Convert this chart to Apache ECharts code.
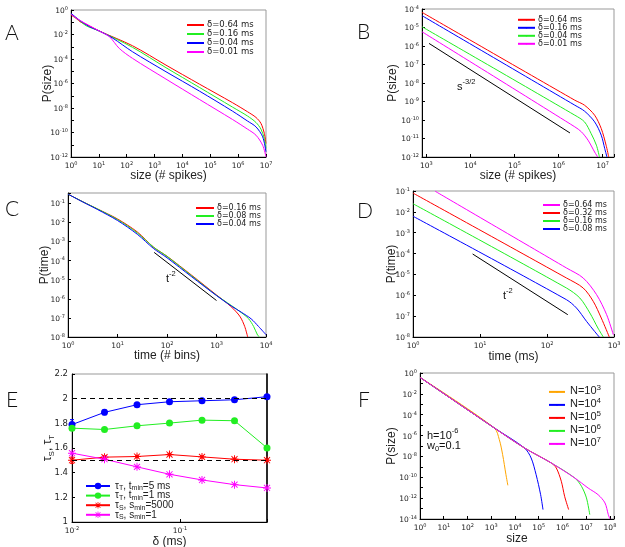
<!DOCTYPE html>
<html><head><meta charset="utf-8">
<script src="https://cdn.jsdelivr.net/npm/echarts@6/dist/echarts.min.js"></script>
<style>html,body{margin:0;padding:0;background:#fff}#c{width:625px;height:547px}</style>
</head><body><div id="c"></div><script>
// ---------- DATA (log10 readings off log axes) ----------
// Panel A: P(size) vs size
const A_red_lx = [0, 0.18, 0.36, 0.48, 0.60, 1.02, 2.21, 3.41, 4.61, 5.80, 6.34, 6.64, 6.82, 6.94, 7.0];
const A_red_ly = [-0.41, -0.68, -1.01, -1.09, -1.23, -1.72, -2.92, -4.50, -6.05, -7.57, -8.31, -8.77, -9.26, -10.08, -10.90];
const A_grn_lx = [0, 0.24, 0.54, 1.02, 2.21, 3.41, 4.61, 5.80, 6.34, 6.64, 6.82, 6.94, 7.0];
const A_grn_ly = [-0.33, -0.74, -1.28, -1.72, -3.05, -4.71, -6.32, -7.93, -8.66, -9.18, -9.73, -10.49, -11.31];
const A_blu_lx = [0, 0.30, 0.66, 1.02, 1.50, 2.21, 3.41, 4.61, 5.80, 6.34, 6.64, 6.88, 7.0];
const A_blu_ly = [-0.27, -0.82, -1.36, -1.72, -2.30, -3.41, -5.04, -6.62, -8.26, -9.07, -9.54, -10.35, -11.58];
const A_mag_lx = [0, 0.30, 0.66, 1.02, 1.38, 1.73, 2.21, 3.41, 4.61, 5.80, 6.34, 6.64, 6.88, 7.0];
const A_mag_ly = [-0.35, -0.82, -1.28, -1.72, -2.18, -3.13, -3.95, -5.64, -7.30, -8.94, -9.73, -10.22, -11.04, -11.99];
const A_labels = ['δ=0.64 ms', 'δ=0.16 ms', 'δ=0.04 ms', 'δ=0.01 ms'];

// Panel B
const B_red_lx = [2.9, 6.37, 6.59, 6.82, 6.97, 7.08, 7.14];
const B_red_ly = [-4.18, -8.93, -9.20, -9.74, -10.46, -11.36, -12.0];
const B_blu_lx = [2.9, 6.37, 6.59, 6.82, 6.97, 7.05, 7.10];
const B_blu_ly = [-4.36, -9.20, -9.52, -10.10, -10.82, -11.55, -12.0];
const B_grn_lx = [2.9, 6.37, 6.59, 6.74, 6.86, 6.93];
const B_grn_ly = [-4.96, -9.74, -10.10, -10.73, -11.36, -12.0];
const B_mag_lx = [2.9, 6.37, 6.52, 6.67, 6.82, 6.89];
const B_mag_ly = [-5.23, -10.37, -10.64, -11.09, -11.73, -12.0];
const B_ref_lx = [3.06, 6.26];
const B_ref_ly = [-5.86, -10.70];
const B_labels = ['δ=0.64 ms', 'δ=0.16 ms', 'δ=0.04 ms', 'δ=0.01 ms'];

// Panel C
const C_red_lx = [0, 0.3, 0.6, 1.0, 1.4, 1.73, 2.0, 2.5, 3.0, 3.2, 3.35, 3.48, 3.57, 3.63];
const C_red_ly = [-0.52, -0.92, -1.3, -1.82, -2.5, -3.3, -3.77, -4.77, -5.8, -6.2, -6.55, -6.95, -7.45, -8.0];
const C_grn_lx = [0, 0.3, 0.6, 1.0, 1.4, 1.73, 2.0, 2.5, 3.0, 3.3, 3.5, 3.65, 3.75, 3.83, 3.87];
const C_grn_ly = [-0.52, -0.92, -1.3, -1.85, -2.55, -3.3, -3.78, -4.8, -5.82, -6.35, -6.72, -7.05, -7.45, -7.9, -8.0];
const C_blu_lx = [0, 0.3, 0.6, 1.0, 1.4, 1.73, 2.0, 2.5, 3.0, 3.3, 3.5, 3.7, 3.85, 4.0];
const C_blu_ly = [-0.52, -0.93, -1.33, -1.9, -2.62, -3.37, -3.85, -4.85, -5.83, -6.38, -6.7, -7.05, -7.45, -7.88];
const C_ref_lx = [1.74, 3.0];
const C_ref_ly = [-3.57, -6.09];
const C_labels = ['δ=0.16 ms', 'δ=0.08 ms', 'δ=0.04 ms'];

// Panel D
const D_mag_lx = [0.33, 2.29, 2.54, 2.74, 2.89, 2.99];
const D_mag_ly = [-1.01, -4.69, -5.17, -5.97, -6.93, -7.89];
const D_red_lx = [0, 2.29, 2.54, 2.69, 2.81, 2.93];
const D_red_ly = [-1.1, -5.17, -5.65, -6.29, -7.09, -8.0];
const D_grn_lx = [0, 2.29, 2.49, 2.64, 2.76, 2.84];
const D_grn_ly = [-1.61, -5.65, -6.13, -6.85, -7.57, -8.0];
const D_blu_lx = [0, 2.29, 2.44, 2.59, 2.71, 2.78];
const D_blu_ly = [-2.21, -6.21, -6.61, -7.25, -7.73, -8.0];
const D_ref_lx = [0.89, 2.31];
const D_ref_ly = [-4.02, -6.93];
const D_labels = ['δ=0.64 ms', 'δ=0.32 ms', 'δ=0.16 ms', 'δ=0.08 ms'];

// Panel E (linear y)
const E_delta = [0.01, 0.02, 0.04, 0.08, 0.16, 0.32, 0.64];
const E_tauT5 = [1.79, 1.889, 1.951, 1.975, 1.983, 1.991, 2.016];
const E_tauT5_err = [0.04, 0.02, 0.008, 0.008, 0.006, 0.006, 0.006];
const E_tauT1 = [1.761, 1.75, 1.78, 1.802, 1.826, 1.821, 1.601];
const E_tauS5000 = [1.501, 1.526, 1.531, 1.547, 1.528, 1.509, 1.501];
const E_tauS5000_err = [0.025, 0.012, 0.01, 0.01, 0.008, 0.008, 0.008];
const E_tauS1 = [1.558, 1.509, 1.447, 1.387, 1.341, 1.303, 1.276];
const E_refLines = [2, 1.5];

// Panel F
const F_org_lx = [0, 3.13, 3.34, 3.48, 3.62, 3.70];
const F_org_ly = [-0.42, -5.27, -6.39, -7.83, -9.75, -10.77];
const F_blu_lx = [0, 3.13, 4.40, 4.68, 4.89, 5.08, 5.18];
const F_blu_ly = [-0.42, -5.27, -7.19, -8.15, -9.75, -11.67, -13.1];
const F_red_lx = [0, 3.13, 4.40, 5.53, 5.74, 5.95, 6.09, 6.26];
const F_red_ly = [-0.42, -5.27, -7.19, -8.63, -9.11, -10.38, -11.82, -13.1];
const F_grn_lx = [0, 3.13, 4.40, 5.53, 6.52, 6.80, 7.01, 7.15];
const F_grn_ly = [-0.42, -5.27, -7.19, -8.63, -10.07, -10.86, -11.98, -13.58];
const F_mag_lx = [0, 3.13, 4.40, 5.53, 6.52, 7.08, 7.5, 7.79, 7.93, 8.0];
const F_mag_ly = [-0.42, -5.27, -7.19, -8.63, -10.07, -11.03, -11.67, -12.46, -13.58, -14.0];
const F_exps = ['3', '4', '5', '6', '7'];

// ---------- helpers ----------
const TF = 'DejaVu Sans', LF = 'Liberation Sans';
const RED = '#ff0000', GRN = '#22ee22', BLU = '#0000ff', MAG = '#ff00ff', ORG = '#ffa500';
function pts(lx, ly) { return lx.map((x, i) => [Math.pow(10, x), Math.pow(10, ly[i])]); }
const richTick = {
  b: { fontSize: 7.5, fontFamily: TF, color: '#222', verticalAlign: 'bottom', lineHeight: 10 },
  s: { fontSize: 5, fontFamily: TF, color: '#222', verticalAlign: 'bottom', padding: [0, 0, 4, 0], lineHeight: 10 }
};
function fmtLog(even) {
  return function (v) {
    const l = Math.log10(v), e = Math.round(l);
    if (Math.abs(l - e) > 0.02) return '';
    if (even && e % 2 !== 0) return '';
    return '{b|10}{s|' + e + '}';
  };
}
function axisBase(gi) {
  return {
    gridIndex: gi,
    axisLine: { show: true, onZero: false, lineStyle: { color: '#000', width: 1 } },
    axisTick: { show: true, inside: true, length: 3, lineStyle: { color: '#000' } },
    splitLine: { show: false },
    nameLocation: 'middle', nameMoveOverlap: false,
    nameTextStyle: { fontSize: 12, fontFamily: LF, color: '#222', lineHeight: 14 }
  };
}
function logAxis(gi, min, max, split, even, name, gap, fixedInterval) {
  const a = Object.assign(axisBase(gi), {
    type: 'log', logBase: 10, min: min, max: max, splitNumber: split,
    axisLabel: { formatter: fmtLog(even), rich: richTick, margin: 3, hideOverlap: false },
    name: name, nameGap: gap
  });
  if (fixedInterval) a.interval = 1;
  return a;
}
function line(name, gi, data, color, extra) {
  return Object.assign({
    type: 'line', name: name, xAxisIndex: gi, yAxisIndex: gi, data: data,
    showSymbol: false, symbol: 'none', smooth: 0.3, clip: true,
    lineStyle: { color: color, width: 1 }, itemStyle: { color: color }, z: 3
  }, extra || {});
}
function errBars(gi, xs, ys, errs, color) {
  return {
    type: 'custom', xAxisIndex: gi, yAxisIndex: gi, silent: true, z: 2,
    data: xs.map((x, i) => [x, ys[i] - errs[i], ys[i] + errs[i]]),
    renderItem: function (params, api) {
      const p1 = api.coord([api.value(0), api.value(1)]);
      const p2 = api.coord([api.value(0), api.value(2)]);
      const st = { stroke: color, lineWidth: 1 };
      return { type: 'group', children: [
        { type: 'line', shape: { x1: p1[0], y1: p1[1], x2: p2[0], y2: p2[1] }, style: st },
        { type: 'line', shape: { x1: p1[0] - 2, y1: p1[1], x2: p1[0] + 2, y2: p1[1] }, style: st },
        { type: 'line', shape: { x1: p2[0] - 2, y1: p2[1], x2: p2[0] + 2, y2: p2[1] }, style: st }
      ] };
    }
  };
}
const AST = 'path://M0,4.4L10,4.4L10,5.6L0,5.6Z M4.4,0L5.6,0L5.6,10L4.4,10Z M0.8,1.6L1.6,0.8L9.2,8.4L8.4,9.2Z M8.4,0.8L9.2,1.6L1.6,9.2L0.8,8.4Z';

const grids = [
  { left: 71, top: 10, width: 195, height: 147 },
  { left: 422, top: 9, width: 192, height: 148 },
  { left: 68, top: 193, width: 198, height: 144 },
  { left: 413, top: 191, width: 201, height: 146 },
  { left: 72, top: 374, width: 195, height: 148 },
  { left: 420, top: 373, width: 194, height: 146 }
].map(g => Object.assign({ show: true, borderColor: '#999', borderWidth: 1, backgroundColor: 'transparent', containLabel: false, outerBoundsMode: 'none' }, g));

const xAxes = [
  logAxis(0, 1, 1e7, 7, false, 'size (# spikes)', 11.5, true),
  logAxis(1, Math.pow(10, 2.9), Math.pow(10, 7.26), 4, false, 'size (# spikes)', 11.5, false),
  logAxis(2, 1, 1e4, 4, false, 'time (# bins)', 12, true),
  logAxis(3, 1, 1e3, 3, false, 'time (ms)', 12.5, true),
  logAxis(4, 0.01, 0.64, 2, false, 'δ (ms)', 13, true),
  logAxis(5, 1, Math.pow(10, 8.17), 8, false, 'size', 13, true)
];
const yAxes = [
  logAxis(0, 1e-12, 1, 12, true, 'P(size)', 16.5, true),
  logAxis(1, 1e-12, 1e-4, 8, false, 'P(size)', 22, true),
  logAxis(2, 1e-8, Math.pow(10, -0.46), 8, false, 'P(time)', 16.5, true),
  logAxis(3, 1e-8, 1e-1, 7, false, 'P(time)', 14, true),
  Object.assign(axisBase(4), {
    type: 'value', min: 1, max: 2.2, interval: 0.2,
    axisLabel: { fontSize: 8.5, fontFamily: TF, color: '#222', margin: 4, formatter: v => String(+v.toFixed(1)) },
    name: '{t|τ}{s|S}{t|, τ}{s|T}', nameGap: 16,
    nameTextStyle: { rich: {
      t: { fontSize: 12, fontFamily: LF, color: '#222', verticalAlign: 'top', lineHeight: 14 },
      s: { fontSize: 8, fontFamily: LF, color: '#222', verticalAlign: 'top', padding: [6, 0, 0, 0], lineHeight: 14 } } }
  }),
  logAxis(5, 1e-14, 1, 14, true, 'P(size)', 21, true),
  // right frame line for panel E
  { type: 'value', gridIndex: 4, position: 'right', min: 1, max: 2.2, interval: 0.2,
    axisLine: { show: true, lineStyle: { color: '#000', width: 1.6 } }, axisTick: { show: false },
    axisLabel: { show: false }, splitLine: { show: false } }
];

const series = [
  // A
  line('A|' + A_labels[0], 0, pts(A_red_lx, A_red_ly), RED),
  line('A|' + A_labels[1], 0, pts(A_grn_lx, A_grn_ly), GRN),
  line('A|' + A_labels[2], 0, pts(A_blu_lx, A_blu_ly), BLU),
  line('A|' + A_labels[3], 0, pts(A_mag_lx, A_mag_ly), MAG),
  // B
  line('B|' + B_labels[0], 1, pts(B_red_lx, B_red_ly), RED),
  line('B|' + B_labels[1], 1, pts(B_blu_lx, B_blu_ly), BLU),
  line('B|' + B_labels[2], 1, pts(B_grn_lx, B_grn_ly), GRN),
  line('B|' + B_labels[3], 1, pts(B_mag_lx, B_mag_ly), MAG),
  line('B|ref', 1, pts(B_ref_lx, B_ref_ly), '#000', { smooth: false }),
  // C
  line('C|' + C_labels[0], 2, pts(C_red_lx, C_red_ly), RED),
  line('C|' + C_labels[1], 2, pts(C_grn_lx, C_grn_ly), GRN),
  line('C|' + C_labels[2], 2, pts(C_blu_lx, C_blu_ly), BLU),
  line('C|ref', 2, pts(C_ref_lx, C_ref_ly), '#000', { smooth: false }),
  // D
  line('D|' + D_labels[0], 3, pts(D_mag_lx, D_mag_ly), MAG),
  line('D|' + D_labels[1], 3, pts(D_red_lx, D_red_ly), RED),
  line('D|' + D_labels[2], 3, pts(D_grn_lx, D_grn_ly), GRN),
  line('D|' + D_labels[3], 3, pts(D_blu_lx, D_blu_ly), BLU),
  line('D|ref', 3, pts(D_ref_lx, D_ref_ly), '#000', { smooth: false }),
  // E
  errBars(4, E_delta, E_tauT5, E_tauT5_err, BLU),
  errBars(4, E_delta, E_tauS5000, E_tauS5000_err, RED),
  line('E|T5', 4, E_delta.map((d, i) => [d, E_tauT5[i]]), BLU, { smooth: false, showSymbol: true, symbol: 'circle', symbolSize: 7,
    markLine: { silent: true, symbol: 'none', label: { show: false }, lineStyle: { type: [5, 4], color: '#000', width: 1 },
      data: E_refLines.map(v => ({ yAxis: v })) } }),
  line('E|T1', 4, E_delta.map((d, i) => [d, E_tauT1[i]]), GRN, { smooth: false, showSymbol: true, symbol: 'circle', symbolSize: 7 }),
  line('E|S5000', 4, E_delta.map((d, i) => [d, E_tauS5000[i]]), RED, { smooth: false, showSymbol: true, symbol: AST, symbolSize: 8 }),
  line('E|S1', 4, E_delta.map((d, i) => [d, E_tauS1[i]]), MAG, { smooth: false, showSymbol: true, symbol: AST, symbolSize: 8 }),
  // F
  line('F|3', 5, pts(F_org_lx, F_org_ly), ORG),
  line('F|4', 5, pts(F_blu_lx, F_blu_ly), BLU),
  line('F|5', 5, pts(F_red_lx, F_red_ly), RED),
  line('F|6', 5, pts(F_grn_lx, F_grn_ly), GRN),
  line('F|7', 5, pts(F_mag_lx, F_mag_ly), MAG)
];

const plainFmt = n => n.split('|')[1];
function legendSmall(names, left, top, lh, fs, iw) {
  return { show: true, orient: 'vertical', left: left, top: top, padding: 0, itemGap: 0,
    itemWidth: iw, itemHeight: 2, data: names, formatter: plainFmt, selectedMode: false,
    textStyle: { fontSize: fs, fontFamily: TF, color: '#222', lineHeight: lh, padding: [0, 0, 0, -2] } };
}
const E_leg = {
  'E|T5': '{n|τ}{sb|T}{n|, t}{sb|min}{n|=5 ms}',
  'E|T1': '{n|τ}{sb|T}{n|, t}{sb|min}{n|=1 ms}',
  'E|S5000': '{n|τ}{sb|S}{n|, s}{sb|min}{n|=5000}',
  'E|S1': '{n|τ}{sb|S}{n|, s}{sb|min}{n|=1}'
};
const legends = [
  legendSmall(A_labels.map(l => 'A|' + l), 186, 20.5, 7.3, 8.5, 17),
  legendSmall(B_labels.map(l => 'B|' + l), 517, 15.8, 6.6, 8, 17),
  legendSmall(C_labels.map(l => 'C|' + l), 195, 204, 7.1, 8, 18),
  legendSmall(D_labels.map(l => 'D|' + l), 542, 201, 7.3, 8, 17),
  { show: true, orient: 'vertical', left: 85, top: 481, padding: 0, itemGap: -1.4, itemWidth: 24, itemHeight: 8,
    data: Object.keys(E_leg), selectedMode: false, formatter: n => E_leg[n],
    textStyle: { lineHeight: 10, rich: {
      n: { fontSize: 10, fontFamily: LF, color: '#222', verticalAlign: 'top', lineHeight: 10 },
      sb: { fontSize: 7, fontFamily: LF, color: '#222', verticalAlign: 'top', padding: [4, 0, 0, 0], lineHeight: 10 } } } },
  { show: true, orient: 'vertical', left: 548, top: 383.8, padding: 0, itemGap: 0, itemWidth: 16, itemHeight: 2,
    data: F_exps.map(e => 'F|' + e), selectedMode: false, formatter: n => '{n|N=10}{sp|' + n.split('|')[1] + '}',
    textStyle: { lineHeight: 9.8, rich: {
      n: { fontSize: 11, fontFamily: LF, color: '#222', verticalAlign: 'bottom', lineHeight: 9.8 },
      sp: { fontSize: 8, fontFamily: LF, color: '#222', verticalAlign: 'bottom', padding: [0, 0, 5, 0], lineHeight: 9.8 } } } }
];

function letter(t, x, y) {
  return { type: 'text', left: x, top: y, style: { text: t, fontSize: 21, fontFamily: 'Lato, Open Sans, sans-serif', fontWeight: 300, fill: '#111' } };
}
function rt(x, y, text, rich) {
  return { type: 'text', left: x, top: y, style: { text: text, rich: rich } };
}
const richAnn = {
  n: { fontSize: 11, fontFamily: LF, fill: '#111', verticalAlign: 'bottom', lineHeight: 14 },
  sp: { fontSize: 7.5, fontFamily: LF, fill: '#111', verticalAlign: 'bottom', padding: [0, 0, 6, 0], lineHeight: 14 },
  sb: { fontSize: 7.5, fontFamily: LF, fill: '#111', verticalAlign: 'bottom', padding: [0, 0, -2, 0], lineHeight: 14 }
};
const graphics = [
  letter('A', 5, 23), letter('B', 357, 22), letter('C', 5, 199), letter('D', 357, 201), letter('E', 6, 390), letter('F', 358, 390),
  rt(457, 78, '{n|s}{sp|-3/2}', richAnn),
  rt(166, 270, '{n|t}{sp|-2}', richAnn),
  rt(503, 287, '{n|t}{sp|-2}', richAnn),
  rt(427, 427, '{n|h=10}{sp|-6}', richAnn),
  rt(427, 440, '{n|w}{sb|0}{n|=0.1}', richAnn)
];

const chart = echarts.init(document.getElementById('c'), null, { renderer: 'canvas' });
chart.setOption({
  animation: false,
  backgroundColor: '#fff',
  grid: grids, xAxis: xAxes, yAxis: yAxes, series: series, legend: legends, graphic: graphics
});
</script></body></html>
